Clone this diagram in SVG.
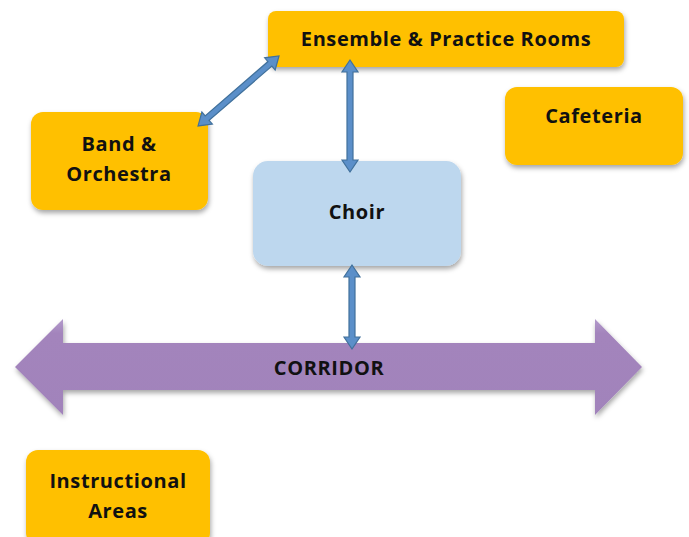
<svg xmlns="http://www.w3.org/2000/svg" width="689" height="537" viewBox="0 0 689 537">
<defs>
<filter id="sh" x="-20%" y="-20%" width="140%" height="150%">
<feDropShadow dx="1" dy="3" stdDeviation="2.5" flood-color="#000" flood-opacity="0.35"/>
</filter>
<linearGradient id="pg" x1="0" y1="0" x2="0" y2="1">
<stop offset="0" stop-color="#B39BCB"/>
<stop offset="0.15" stop-color="#A384BC"/>
<stop offset="1" stop-color="#A183BB"/>
</linearGradient>
<style>
.o{fill:#FFC000;filter:url(#sh)}
.c{fill:#BDD7EE;filter:url(#sh)}
.t{font-family:"Open Sans","Liberation Sans",sans-serif;font-weight:bold;font-size:20px;letter-spacing:0.6px;fill:#111;text-anchor:middle}
.a{fill:#5B8FC9;stroke:#41719C;stroke-width:1.2;stroke-linejoin:miter}
</style>
</defs>
<g id="corridor">
<polygon points="15,367 63,319 63,343 595,343 595,319 642,367 595,415 595,390 63,390 63,415" fill="url(#pg)" filter="url(#sh)"/>
<text class="t" x="329" y="375">CORRIDOR</text>
</g>
<g id="ensemble">
<rect class="o" x="268" y="11" width="356" height="56" rx="8"/>
<text class="t" x="446" y="46">Ensemble &amp; Practice Rooms</text>
</g>
<g id="band">
<rect class="o" x="31" y="112" width="177" height="98" rx="12"/>
<text class="t" x="119" y="151">Band &amp;</text>
<text class="t" x="119" y="181">Orchestra</text>
</g>
<g id="cafeteria">
<rect class="o" x="505" y="87" width="178" height="78" rx="12"/>
<text class="t" x="594" y="123">Cafeteria</text>
</g>
<g id="choir">
<rect class="c" x="253" y="161" width="208" height="105" rx="15"/>
<text class="t" x="357" y="219">Choir</text>
</g>
<g id="instructional">
<rect class="o" x="26" y="450" width="184" height="95" rx="12"/>
<text class="t" x="118" y="488">Instructional</text>
<text class="t" x="118" y="518">Areas</text>
</g>
<g id="connectors">
<polygon class="a" points="350,60 358,72 353,72 353,160 358,160 350,172 342,160 347,160 347,72 342,72"/>
<polygon class="a" points="352,265 360,277 355,277 355,337 360,337 352,349 344,337 349,337 349,277 344,277"/>
<polygon class="a" transform="translate(279,56) rotate(139.17)" points="0,0 12,-8 12,-3 95,-3 95,-8 107,0 95,8 95,3 12,3 12,8"/>
</g>
</svg>
